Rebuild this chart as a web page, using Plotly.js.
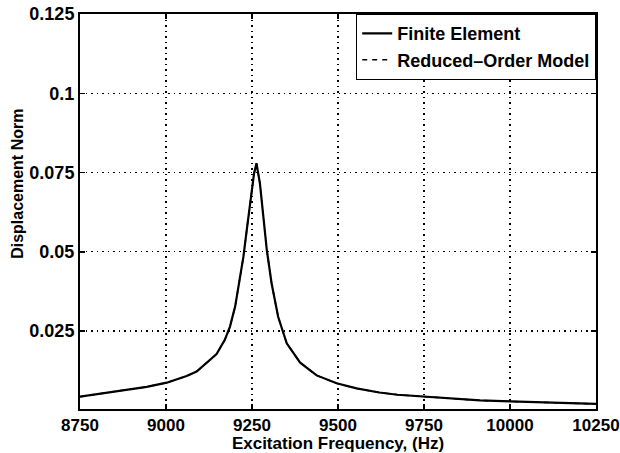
<!DOCTYPE html>
<html>
<head>
<meta charset="utf-8">
<script src="https://cdn.plot.ly/plotly-3.0.1.min.js"></script>
<style>html,body{margin:0;padding:0;background:#fff;}#chart{width:620px;height:453px;}</style>
</head>
<body>
<div id="chart"></div>
<script>
const frequency = [8750, 8847, 8944, 9002, 9060, 9089, 9108, 9147, 9171, 9186, 9201, 9213, 9225, 9236, 9246, 9256, 9263, 9273, 9283, 9293, 9307, 9326, 9351, 9390, 9438, 9496, 9554, 9620, 9673, 9750, 9817, 9913, 10000, 10100, 10250];
const finiteElement = [0.0043, 0.0059, 0.0074, 0.0087, 0.0108, 0.0122, 0.0140, 0.0177, 0.0222, 0.0264, 0.0327, 0.0400, 0.0484, 0.0579, 0.0663, 0.0747, 0.0779, 0.0716, 0.0611, 0.0506, 0.0400, 0.0295, 0.0211, 0.0150, 0.0110, 0.0085, 0.0069, 0.0056, 0.0049, 0.0043, 0.0037, 0.0031, 0.0028, 0.0025, 0.0020];
const reducedOrder = [0.0043, 0.0059, 0.0074, 0.0087, 0.0108, 0.0122, 0.0140, 0.0177, 0.0222, 0.0264, 0.0327, 0.0400, 0.0484, 0.0579, 0.0663, 0.0747, 0.0779, 0.0716, 0.0611, 0.0506, 0.0400, 0.0295, 0.0211, 0.0150, 0.0110, 0.0085, 0.0069, 0.0056, 0.0049, 0.0043, 0.0037, 0.0031, 0.0028, 0.0025, 0.0020];
const xTicks = [8750, 9000, 9250, 9500, 9750, 10000, 10250];
const xTickLabels = ['8750', '9000', '9250', '9500', '9750', '10000', '10250'];
const yTicks = [0.025, 0.05, 0.075, 0.1, 0.125];
const yTickLabels = ['0.025', '0.05', '0.075', '0.1', '0.125'];
const yTitle = 'Displacement Norm';

const fam = '"Liberation Sans", Arial, sans-serif';
const xTickFont = {family: fam, size: 17, color: '#000', weight: 'bold'};
const yTickFont = {family: fam, size: 18, color: '#000', weight: 'bold'};
const xTitleFont = {family: fam, size: 17, color: '#000', weight: 'bold'};
const yTitleFont = {family: fam, size: 16, color: '#000', weight: 'bold'};
const legendFont = {family: fam, size: 18, color: '#000', weight: 'bold'};

const traces = [
  {x: frequency, y: finiteElement, name: 'Finite Element', mode: 'lines', line: {color: '#000', width: 2.2, dash: 'solid'}},
  {x: frequency, y: reducedOrder, name: 'Reduced\u2013Order Model', mode: 'lines', line: {color: '#000', width: 1.5, dash: '5px,5px'}}
];

const axisCommon = {
  showline: true, linecolor: '#000', linewidth: 2, mirror: 'ticks',
  ticks: 'inside', ticklen: 5, tickcolor: '#000', tickwidth: 1.5,
  showgrid: true, gridcolor: '#000', gridwidth: 1.2, griddash: '1.5px,4px',
  zeroline: false
};

const layout = {
  width: 620, height: 453,
  margin: {l: 80, r: 24, t: 14, b: 44},
  paper_bgcolor: '#fff', plot_bgcolor: '#fff',
  font: xTickFont,
  showlegend: true,
  legend: {x: 1, xanchor: 'right', y: 1, yanchor: 'top', bordercolor: '#000', borderwidth: 1.2, bgcolor: '#fff', font: legendFont, tracegroupgap: 0},
  xaxis: Object.assign({}, axisCommon, {
    range: [8750, 10250], tickvals: xTicks, ticktext: xTickLabels, tickfont: xTickFont,
    ticklabeloverflow: 'allow',
    title: {text: 'Excitation Frequency, (Hz)', font: xTitleFont, standoff: 1}
  }),
  yaxis: Object.assign({}, axisCommon, {
    range: [0.0004, 0.125], tickvals: yTicks, ticktext: yTickLabels, tickfont: yTickFont
  }),
  annotations: [{
    text: yTitle, font: yTitleFont, textangle: -90, showarrow: false,
    xref: 'paper', yref: 'paper', x: 0, y: 0.57, xanchor: 'center', yanchor: 'middle', xshift: -62
  }]
};

Plotly.newPlot('chart', traces, layout, {displayModeBar: false, staticPlot: true});
</script>
</body>
</html>
